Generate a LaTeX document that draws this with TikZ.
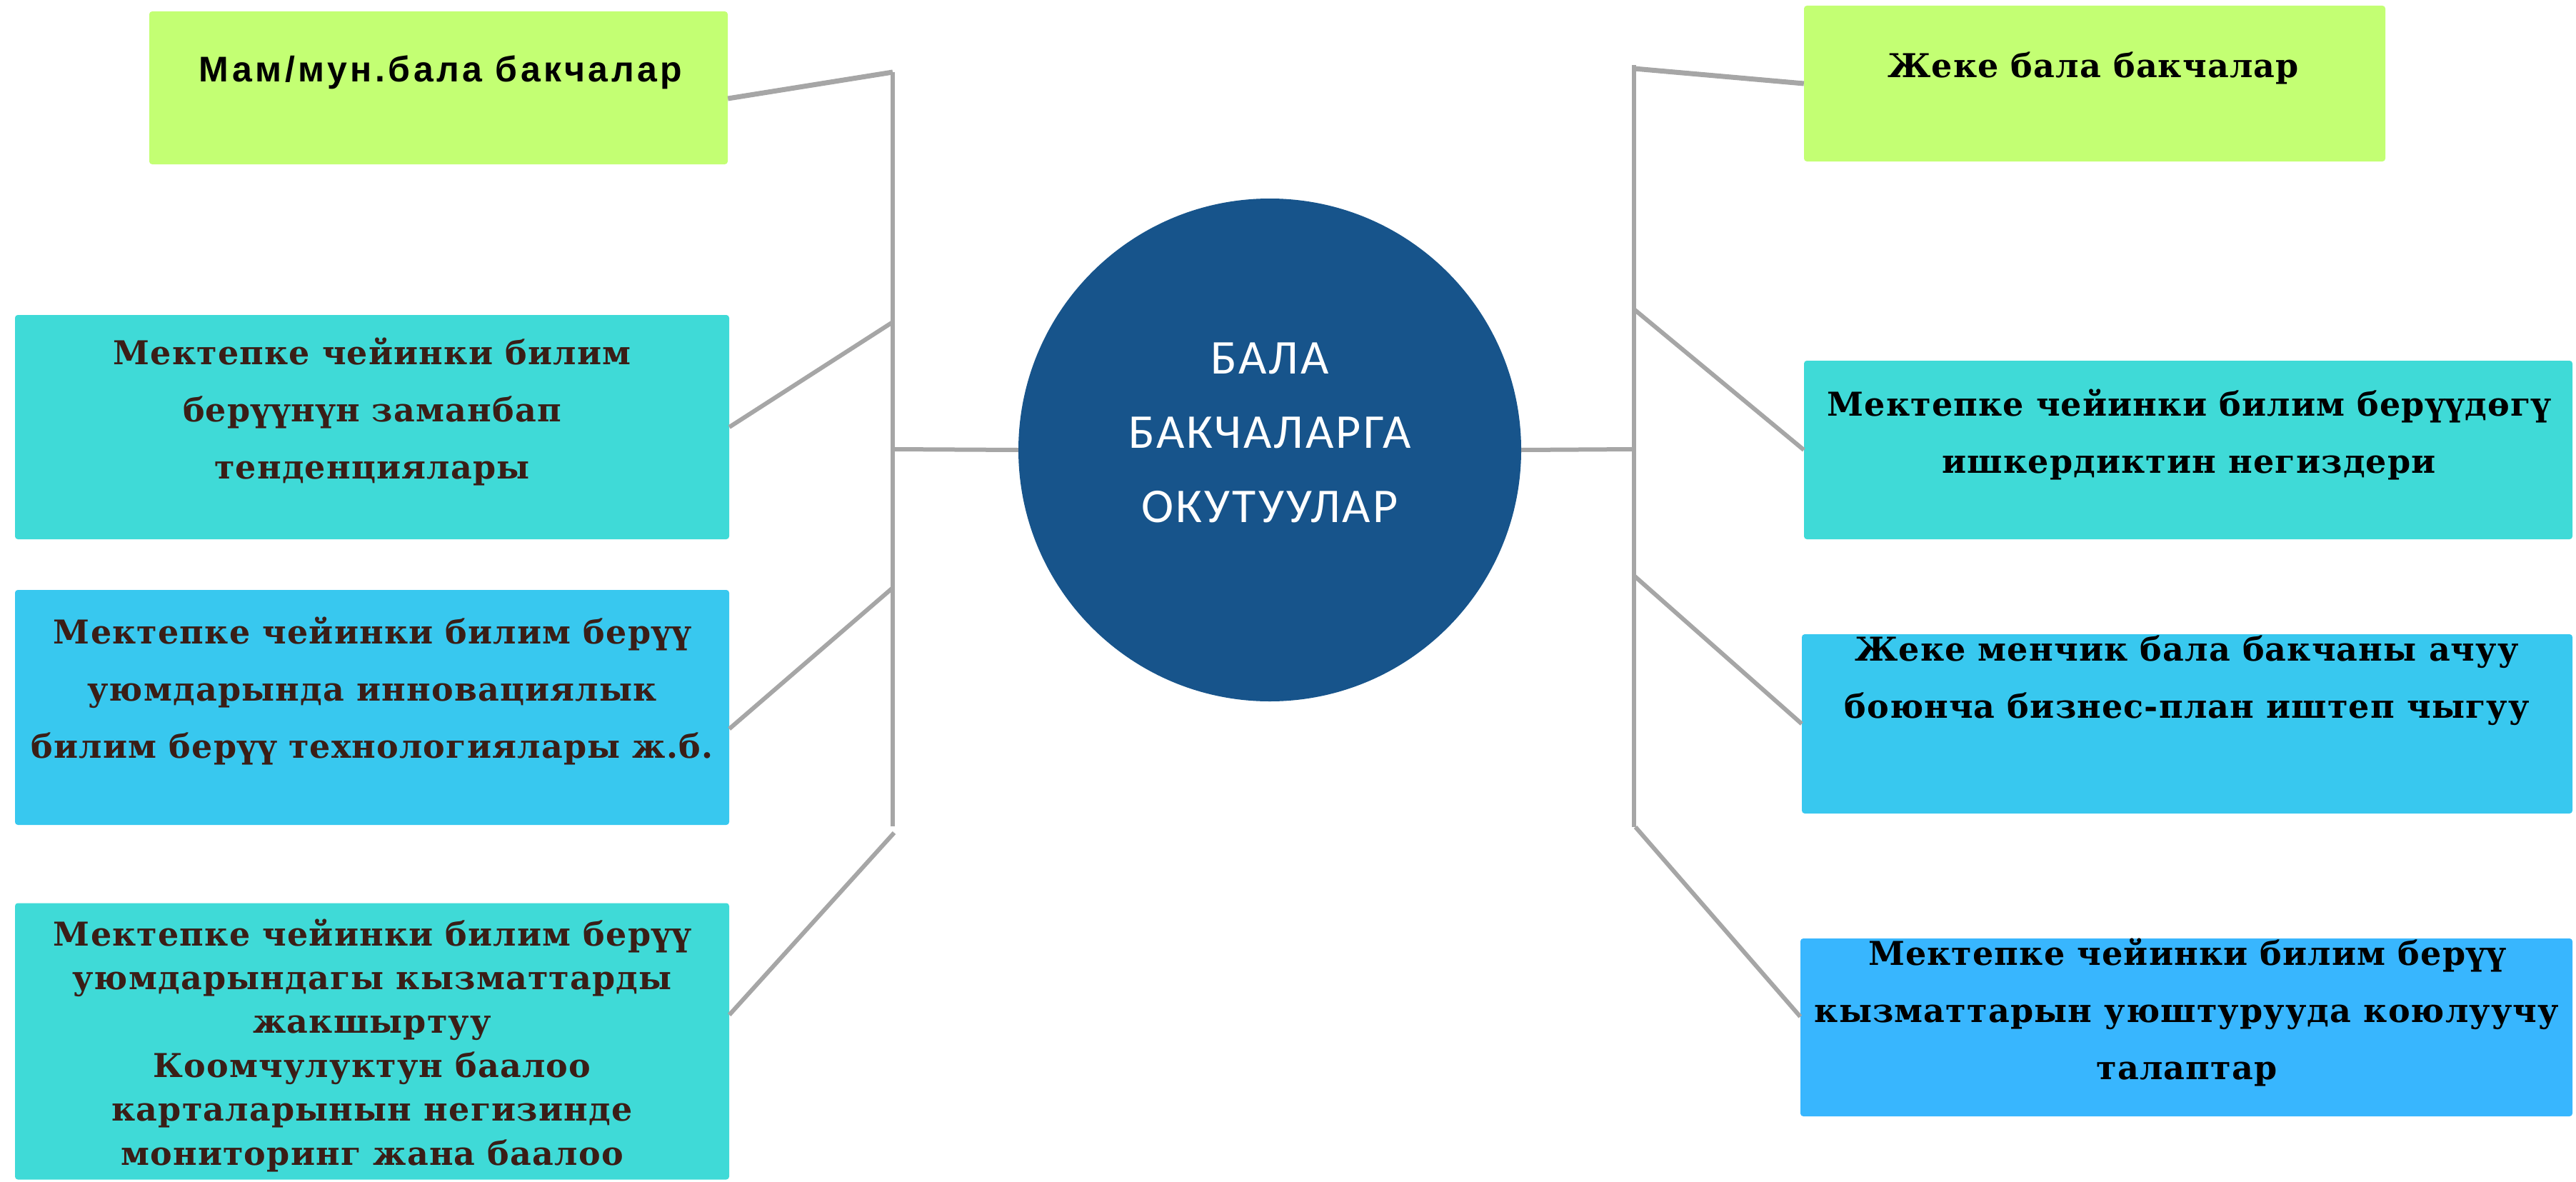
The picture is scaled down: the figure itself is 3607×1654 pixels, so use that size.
\documentclass[tikz,border=0pt]{standalone}
\usepackage{fontspec}
\setmainfont{DejaVu Serif}
\newfontfamily\boxserif{DejaVu Serif}[LetterSpace=2.5]
\newfontfamily\boxsans{Liberation Sans}[LetterSpace=9]
\newfontfamily\hubfont{Carlito}[LetterSpace=4.5]
\definecolor{limefill}{HTML}{C3FF73}
\definecolor{tealfill}{HTML}{3FDAD7}
\definecolor{cyanfill}{HTML}{38C8EF}
\definecolor{skyfill}{HTML}{38B6FE}
\definecolor{hubfill}{HTML}{17548B}
\definecolor{linkgray}{HTML}{A6A6A6}
\definecolor{browntext}{HTML}{3A1E17}
\begin{document}
\begin{tikzpicture}[x=1pt,y=-1pt,
  card/.style={rectangle, rounded corners=4pt, inner sep=0pt, draw=none},
  link/.style={draw=linkgray, line width=6pt},
  toplink/.style={draw=linkgray, line width=7pt},
  boxtxt/.style={font=\boxserif\bfseries\fontsize{46}{80}\selectfont, align=center, inner sep=0pt, anchor=base},
]
\useasboundingbox (0,0) rectangle (3607,1654);
% hub
\node[circle, fill=hubfill, minimum size=704pt, inner sep=0pt] (hub) at (1778,630) {};
\node[font=\hubfont\fontsize{68}{104}\selectfont, text=white, align=center, inner sep=0pt, anchor=base] (hubt) at (1778,731) {БАЛА\\БАКЧАЛАРГА\\ОКУТУУЛАР};
% left cards
\node[card, fill=limefill, minimum width=810pt, minimum height=214pt] (L1) at (614,123) {};
\node[boxtxt, text=black, font=\boxsans\bfseries\fontsize{50}{60}\selectfont] (L1t) at (617,114) {Мам/мун.бала бакчалар};
\node[card, fill=tealfill, minimum width=1000pt, minimum height=314pt] (L2) at (521,598) {};
\node[boxtxt, text=browntext] (L2t) at (521,670) {Мектепке чейинки билим\\берүүнүн заманбап\\тенденциялары};
\node[card, fill=cyanfill, minimum width=1000pt, minimum height=329pt] (L3) at (521,990.5) {};
\node[boxtxt, text=browntext] (L3t) at (521,1061) {Мектепке чейинки билим берүү\\уюмдарында инновациялык\\билим берүү технологиялары ж.б.};
\node[card, fill=tealfill, minimum width=1000pt, minimum height=387pt] (L4) at (521,1458) {};
\node[boxtxt, text=browntext, font=\boxserif\bfseries\fontsize{46}{61.4}\selectfont] (L4t) at (521,1631) {Мектепке чейинки билим берүү\\уюмдарындагы кызматтарды\\жакшыртуу\\Коомчулуктун баалоо\\карталарынын негизинде\\мониторинг жана баалоо};
% right cards
\node[card, fill=limefill, minimum width=814pt, minimum height=218pt] (R1) at (2933,117) {};
\node[boxtxt, text=black] (R1t) at (2931,108) {Жеке бала бакчалар};
\node[card, fill=tealfill, minimum width=1076pt, minimum height=250pt] (R2) at (3064,630) {};
\node[boxtxt, text=black] (R2t) at (3065,662) {Мектепке чейинки билим берүүдөгү\\ишкердиктин негиздери};
\node[card, fill=cyanfill, minimum width=1079pt, minimum height=251pt] (R3) at (3062.5,1013.5) {};
\node[boxtxt, text=black] (R3t) at (3062,1005) {Жеке менчик бала бакчаны ачуу\\боюнча бизнес-план иштеп чыгуу};
\node[card, fill=skyfill, minimum width=1081pt, minimum height=249pt] (R4) at (3061.5,1438.5) {};
\node[boxtxt, text=black] (R4t) at (3062,1511) {Мектепке чейинки билим берүү\\кызматтарын уюштурууда коюлуучу\\талаптар};
% bar coordinates
\coordinate (lbtop) at (1250,101);
\coordinate (lb2) at (1250,451);
\coordinate (lbh) at (1250,629);
\coordinate (lb3) at (1250,823);
\coordinate (lbbot) at (1250,1157);
\coordinate (lb4) at (1252,1166);
\coordinate (rbtop) at (2288,91);
\coordinate (rb1) at (2288,96);
\coordinate (rb2) at (2288,433);
\coordinate (rbh) at (2288,629);
\coordinate (rb3) at (2288,806);
\coordinate (rbbot) at (2288,1158);
\coordinate (rb4) at (2290,1158);
% connectors
\draw[link] (lbtop) -- (lbbot);
\draw[link] (rbtop) -- (rbbot);
\draw[toplink] ([yshift=-15pt]L1.east) -- (lbtop);
\draw[link] (L2.east) -- (lb2);
\draw[link] ([yshift=-30pt]L3.east) -- (lb3);
\draw[link] ([yshift=37pt]L4.east) -- (lb4);
\draw[link] (lbh) -- (hub.west);
\draw[toplink] (rb1) -- (R1.west);
\draw[link] (rb2) -- (R2.west);
\draw[link] (rb3) -- (R3.west);
\draw[link] (rb4) -- ([yshift=15pt]R4.west);
\draw[link] (hub.east) -- (rbh);
\end{tikzpicture}
\end{document}
